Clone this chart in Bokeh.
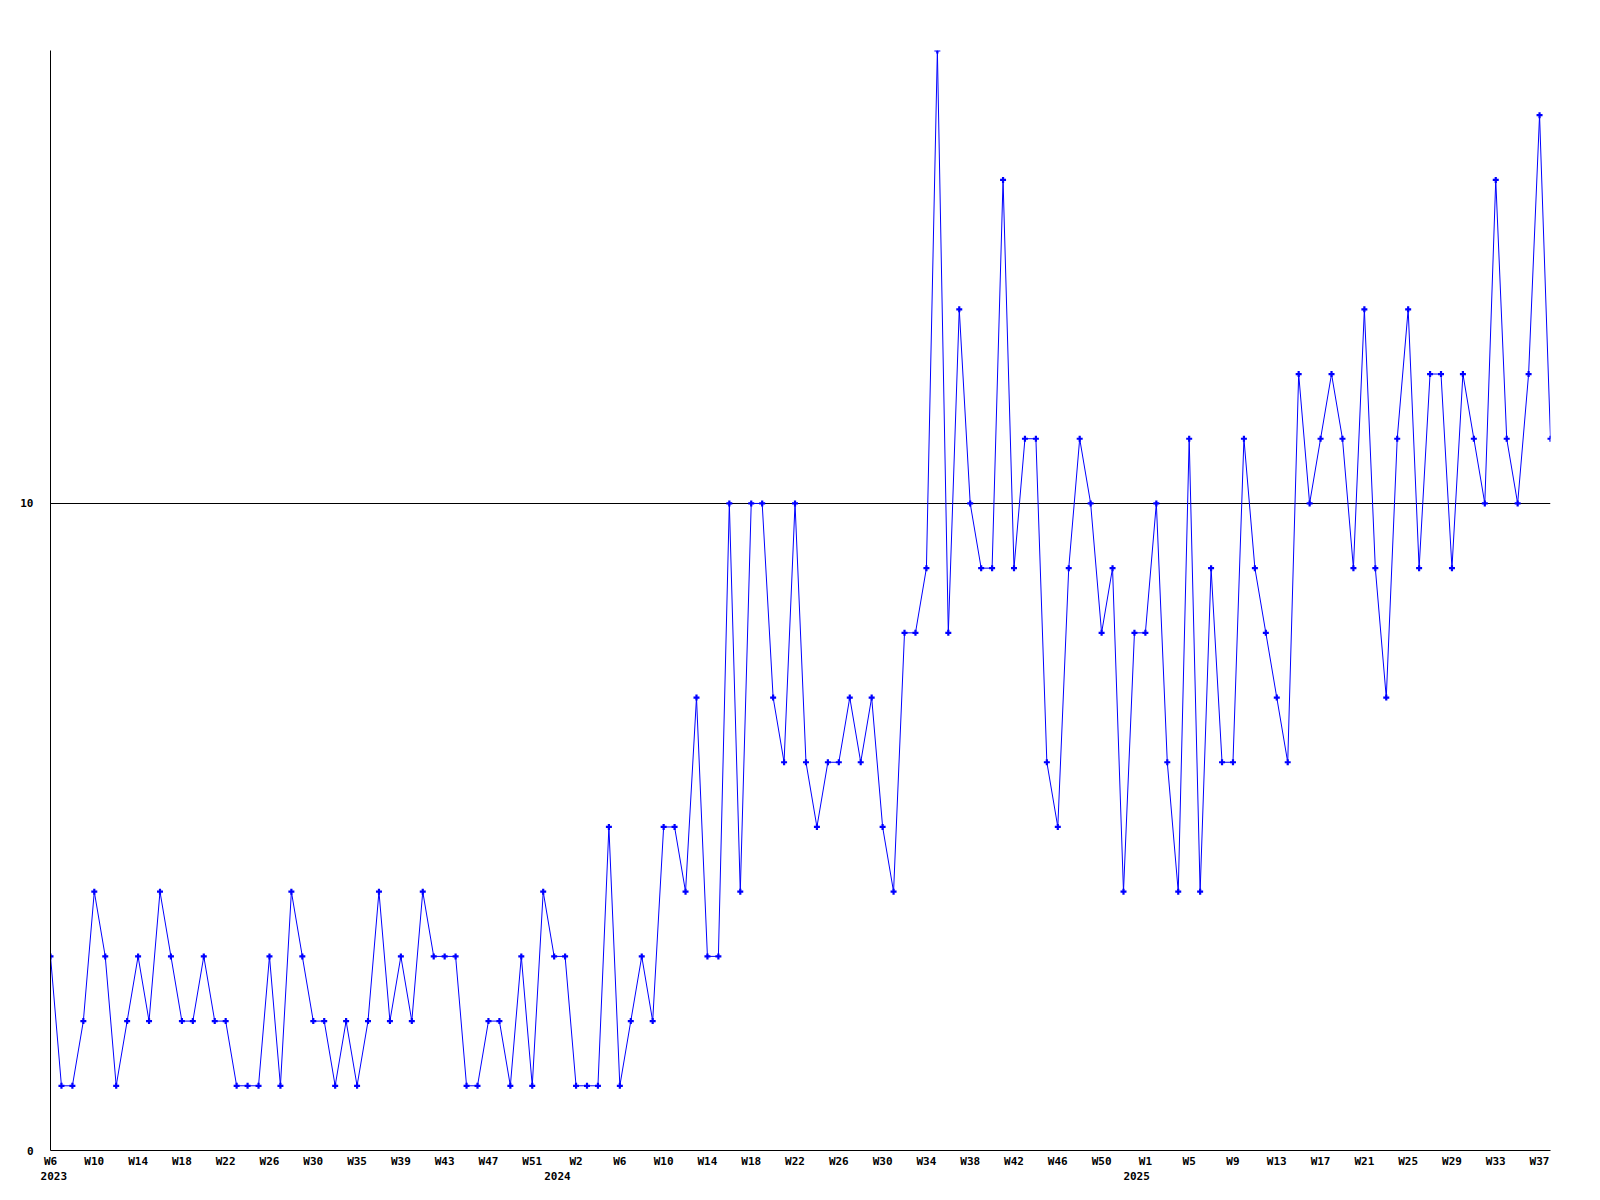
from bokeh.plotting import figure
from bokeh.models import FixedTicker, LinearAxis, Range1d
from bokeh.embed import file_html
from bokeh.resources import INLINE

# weekly counts, first point = W6 2023
values = [
    3, 1, 1, 2, 4, 3, 1, 2, 3, 2, 4, 3, 2, 2, 3, 2, 2, 1, 1, 1,
    3, 1, 4, 3, 2, 2, 1, 2, 1, 2, 4, 2, 3, 2, 4, 3, 3, 3, 1, 1,
    2, 2, 1, 3, 1, 4, 3, 3, 1, 1, 1, 5, 1, 2, 3, 2, 5, 5, 4, 7,
    3, 3, 10, 4, 10, 10, 7, 6, 10, 6, 5, 6, 6, 7, 6, 7, 5, 4, 8, 8,
    9, 17, 8, 13, 10, 9, 9, 15, 9, 11, 11, 6, 5, 9, 11, 10, 8, 9, 4, 8,
    8, 10, 6, 4, 11, 4, 9, 6, 6, 11, 9, 8, 7, 6, 12, 10, 11, 12, 11, 9,
    13, 9, 7, 11, 13, 9, 12, 12, 9, 12, 11, 10, 15, 11, 10, 12, 16, 11,
]

week_labels = [
    "W6", "W10", "W14", "W18", "W22", "W26", "W30", "W35", "W39", "W43", "W47", "W51",
    "W2", "W6", "W10", "W14", "W18", "W22", "W26", "W30", "W34", "W38", "W42", "W46", "W50",
    "W1", "W5", "W9", "W13", "W17", "W21", "W25", "W29", "W33", "W37",
]
week_label_idx = list(range(0, 4 * len(week_labels), 4))

year_labels = ["2023", "2024", "2025"]
year_label_idx = [0.3, 46.3, 99.2]

y_ticks = [0, 10]

FONT = "DejaVu Sans Mono"
n = len(values)
xs = list(range(n))

FW, FH = 1500, 1100

p = figure(
    frame_width=FW, frame_height=FH,
    x_range=Range1d(0, n - 1), y_range=Range1d(0, 17),
    output_backend="svg", toolbar_location=None,
    min_border_left=50, min_border_top=50, min_border_right=34, min_border_bottom=5,
    x_axis_location=None, y_axis_location="left",
)
p.outline_line_color = None
p.background_fill_color = "white"
p.border_fill_color = "white"

p.line(xs, values, line_color="#0000ff", line_width=1)
p.scatter(xs, values, marker="cross", size=6, line_color="#0000ff", line_width=2.2)

# grid: only a line at 10
p.xgrid.visible = False
p.ygrid.ticker = FixedTicker(ticks=[10])
p.ygrid.grid_line_color = "black"
p.ygrid.grid_line_width = 1
p.ygrid.level = "underlay"

# y axis
ya = p.yaxis[0]
ya.ticker = FixedTicker(ticks=y_ticks)
ya.minor_tick_line_color = None
ya.major_tick_line_color = None
ya.major_tick_in = 0
ya.major_tick_out = 0
ya.axis_line_color = "black"
ya.axis_line_width = 1
ya.major_label_standoff = 17
ya.major_label_text_font = FONT
ya.major_label_text_font_size = "11px"
ya.major_label_text_font_style = "bold"
ya.major_label_text_color = "black"

common = dict(
    major_tick_line_color=None, minor_tick_line_color=None,
    major_tick_in=0, major_tick_out=0, minor_tick_in=0, minor_tick_out=0,
    major_label_text_font=FONT, major_label_text_font_size="11px",
    major_label_text_font_style="bold", major_label_text_color="black",
)

# week axis
xa = LinearAxis(
    ticker=FixedTicker(ticks=week_label_idx),
    major_label_overrides={t: lab for t, lab in zip(week_label_idx, week_labels)},
    axis_line_color="black", axis_line_width=1,
    major_label_standoff=4,
    **common,
)
p.add_layout(xa, "below")

# year axis
ya2 = LinearAxis(
    ticker=FixedTicker(ticks=year_label_idx),
    major_label_overrides={t: lab for t, lab in zip(year_label_idx, year_labels)},
    axis_line_color=None,
    major_label_standoff=1,
    **common,
)
p.add_layout(ya2, "below")

open("out.html", "w").write(file_html(p, INLINE))
